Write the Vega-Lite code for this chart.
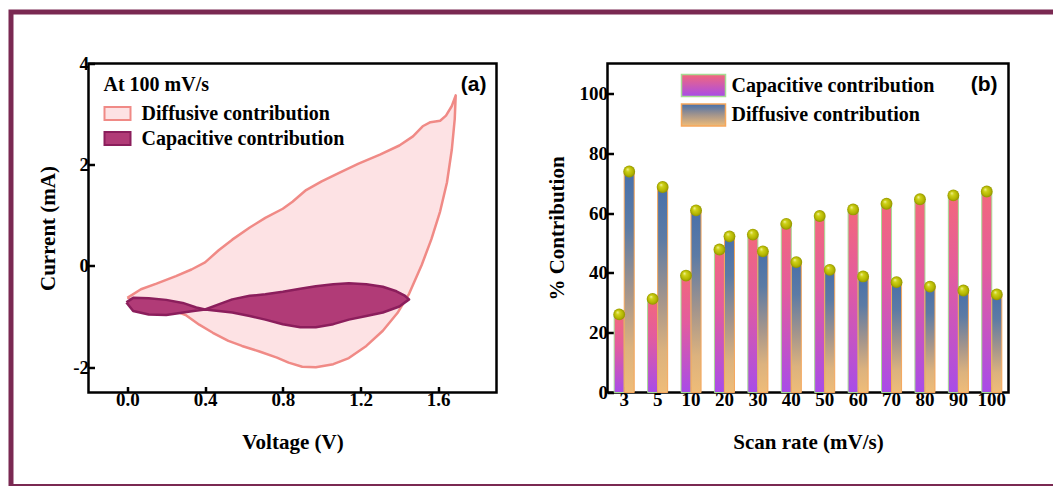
{
  "$schema": "https://vega.github.io/schema/vega-lite/v6.json",
  "background": "white",
  "padding": {"left": 6.5, "top": 7.5, "right": 0, "bottom": 0},
  "config": {
    "font": "Liberation Serif",
    "view": {"stroke": "black", "strokeWidth": 2.5},
    "axis": {
      "labelFont": "Liberation Serif", "labelFontWeight": "bold", "labelFontSize": 19, "labelColor": "black",
      "titleFont": "Liberation Serif", "titleFontWeight": "bold", "titleFontSize": 21, "titleColor": "black",
      "domain": false, "grid": false, "tickColor": "black", "tickWidth": 2.5, "tickSize": -6
    },
    "axisX": {"labelPadding": 4, "titlePadding": 22},
    "axisY": {"labelPadding": 6},
    "legend": {
      "labelFont": "Liberation Serif", "labelFontWeight": "bold", "labelFontSize": 20, "labelColor": "black",
      "titleFont": "Liberation Serif", "titleFontWeight": "bold", "titleFontSize": 20, "titleColor": "black",
      "labelLimit": 400, "padding": 0
    }
  },
  "datasets": {
    "cv": [
      {"series": "Diffusive contribution", "i": 0, "V": 0.00, "I": -0.63},
      {"series": "Diffusive contribution", "i": 1, "V": 0.07, "I": -0.46},
      {"series": "Diffusive contribution", "i": 2, "V": 0.15, "I": -0.35},
      {"series": "Diffusive contribution", "i": 3, "V": 0.25, "I": -0.20},
      {"series": "Diffusive contribution", "i": 4, "V": 0.33, "I": -0.07},
      {"series": "Diffusive contribution", "i": 5, "V": 0.40, "I": 0.07},
      {"series": "Diffusive contribution", "i": 6, "V": 0.47, "I": 0.31},
      {"series": "Diffusive contribution", "i": 7, "V": 0.54, "I": 0.52},
      {"series": "Diffusive contribution", "i": 8, "V": 0.63, "I": 0.76},
      {"series": "Diffusive contribution", "i": 9, "V": 0.71, "I": 0.95},
      {"series": "Diffusive contribution", "i": 10, "V": 0.80, "I": 1.13},
      {"series": "Diffusive contribution", "i": 11, "V": 0.85, "I": 1.27},
      {"series": "Diffusive contribution", "i": 12, "V": 0.92, "I": 1.50},
      {"series": "Diffusive contribution", "i": 13, "V": 1.00, "I": 1.67},
      {"series": "Diffusive contribution", "i": 14, "V": 1.09, "I": 1.84},
      {"series": "Diffusive contribution", "i": 15, "V": 1.19, "I": 2.02},
      {"series": "Diffusive contribution", "i": 16, "V": 1.30, "I": 2.20},
      {"series": "Diffusive contribution", "i": 17, "V": 1.40, "I": 2.38},
      {"series": "Diffusive contribution", "i": 18, "V": 1.47, "I": 2.56},
      {"series": "Diffusive contribution", "i": 19, "V": 1.52, "I": 2.76},
      {"series": "Diffusive contribution", "i": 20, "V": 1.56, "I": 2.84},
      {"series": "Diffusive contribution", "i": 21, "V": 1.61, "I": 2.87},
      {"series": "Diffusive contribution", "i": 22, "V": 1.64, "I": 2.97},
      {"series": "Diffusive contribution", "i": 23, "V": 1.67, "I": 3.16},
      {"series": "Diffusive contribution", "i": 24, "V": 1.69, "I": 3.37},
      {"series": "Diffusive contribution", "i": 25, "V": 1.685, "I": 2.90},
      {"series": "Diffusive contribution", "i": 26, "V": 1.67, "I": 2.30},
      {"series": "Diffusive contribution", "i": 27, "V": 1.645, "I": 1.65},
      {"series": "Diffusive contribution", "i": 28, "V": 1.61, "I": 1.08},
      {"series": "Diffusive contribution", "i": 29, "V": 1.565, "I": 0.53},
      {"series": "Diffusive contribution", "i": 30, "V": 1.515, "I": 0.02},
      {"series": "Diffusive contribution", "i": 31, "V": 1.45, "I": -0.55},
      {"series": "Diffusive contribution", "i": 32, "V": 1.39, "I": -0.93},
      {"series": "Diffusive contribution", "i": 33, "V": 1.315, "I": -1.28},
      {"series": "Diffusive contribution", "i": 34, "V": 1.23, "I": -1.58},
      {"series": "Diffusive contribution", "i": 35, "V": 1.14, "I": -1.82},
      {"series": "Diffusive contribution", "i": 36, "V": 1.06, "I": -1.94},
      {"series": "Diffusive contribution", "i": 37, "V": 0.97, "I": -2.00},
      {"series": "Diffusive contribution", "i": 38, "V": 0.90, "I": -1.99},
      {"series": "Diffusive contribution", "i": 39, "V": 0.83, "I": -1.91},
      {"series": "Diffusive contribution", "i": 40, "V": 0.77, "I": -1.81},
      {"series": "Diffusive contribution", "i": 41, "V": 0.68, "I": -1.69},
      {"series": "Diffusive contribution", "i": 42, "V": 0.59, "I": -1.58},
      {"series": "Diffusive contribution", "i": 43, "V": 0.52, "I": -1.48},
      {"series": "Diffusive contribution", "i": 44, "V": 0.44, "I": -1.32},
      {"series": "Diffusive contribution", "i": 45, "V": 0.37, "I": -1.16},
      {"series": "Diffusive contribution", "i": 46, "V": 0.30, "I": -0.97},
      {"series": "Diffusive contribution", "i": 47, "V": 0.20, "I": -0.82},
      {"series": "Diffusive contribution", "i": 48, "V": 0.10, "I": -0.71},
      {"series": "Diffusive contribution", "i": 49, "V": 0.00, "I": -0.63},

      {"series": "Capacitive contribution", "i": 0, "V": -0.005, "I": -0.72},
      {"series": "Capacitive contribution", "i": 1, "V": 0.03, "I": -0.63},
      {"series": "Capacitive contribution", "i": 2, "V": 0.11, "I": -0.64},
      {"series": "Capacitive contribution", "i": 3, "V": 0.20, "I": -0.67},
      {"series": "Capacitive contribution", "i": 4, "V": 0.285, "I": -0.73},
      {"series": "Capacitive contribution", "i": 5, "V": 0.355, "I": -0.82},
      {"series": "Capacitive contribution", "i": 6, "V": 0.40, "I": -0.86},
      {"series": "Capacitive contribution", "i": 7, "V": 0.47, "I": -0.89},
      {"series": "Capacitive contribution", "i": 8, "V": 0.54, "I": -0.92},
      {"series": "Capacitive contribution", "i": 9, "V": 0.63, "I": -0.99},
      {"series": "Capacitive contribution", "i": 10, "V": 0.71, "I": -1.06},
      {"series": "Capacitive contribution", "i": 11, "V": 0.80, "I": -1.15},
      {"series": "Capacitive contribution", "i": 12, "V": 0.89, "I": -1.21},
      {"series": "Capacitive contribution", "i": 13, "V": 0.97, "I": -1.21},
      {"series": "Capacitive contribution", "i": 14, "V": 1.06, "I": -1.15},
      {"series": "Capacitive contribution", "i": 15, "V": 1.14, "I": -1.06},
      {"series": "Capacitive contribution", "i": 16, "V": 1.23, "I": -0.99},
      {"series": "Capacitive contribution", "i": 17, "V": 1.315, "I": -0.92},
      {"series": "Capacitive contribution", "i": 18, "V": 1.40, "I": -0.80},
      {"series": "Capacitive contribution", "i": 19, "V": 1.45, "I": -0.66},
      {"series": "Capacitive contribution", "i": 20, "V": 1.425, "I": -0.58},
      {"series": "Capacitive contribution", "i": 21, "V": 1.385, "I": -0.50},
      {"series": "Capacitive contribution", "i": 22, "V": 1.315, "I": -0.41},
      {"series": "Capacitive contribution", "i": 23, "V": 1.23, "I": -0.36},
      {"series": "Capacitive contribution", "i": 24, "V": 1.14, "I": -0.34},
      {"series": "Capacitive contribution", "i": 25, "V": 1.06, "I": -0.36},
      {"series": "Capacitive contribution", "i": 26, "V": 0.97, "I": -0.40},
      {"series": "Capacitive contribution", "i": 27, "V": 0.89, "I": -0.45},
      {"series": "Capacitive contribution", "i": 28, "V": 0.80, "I": -0.51},
      {"series": "Capacitive contribution", "i": 29, "V": 0.71, "I": -0.56},
      {"series": "Capacitive contribution", "i": 30, "V": 0.63, "I": -0.59},
      {"series": "Capacitive contribution", "i": 31, "V": 0.54, "I": -0.66},
      {"series": "Capacitive contribution", "i": 32, "V": 0.47, "I": -0.76},
      {"series": "Capacitive contribution", "i": 33, "V": 0.40, "I": -0.86},
      {"series": "Capacitive contribution", "i": 34, "V": 0.34, "I": -0.89},
      {"series": "Capacitive contribution", "i": 35, "V": 0.27, "I": -0.93},
      {"series": "Capacitive contribution", "i": 36, "V": 0.20, "I": -0.97},
      {"series": "Capacitive contribution", "i": 37, "V": 0.11, "I": -0.96},
      {"series": "Capacitive contribution", "i": 38, "V": 0.03, "I": -0.89},
      {"series": "Capacitive contribution", "i": 39, "V": -0.005, "I": -0.72}
    ],
    "contribution": [
      {"rate": "3", "type": "Capacitive contribution", "value": 26.1},
      {"rate": "3", "type": "Diffusive contribution", "value": 73.9},
      {"rate": "5", "type": "Capacitive contribution", "value": 31.3},
      {"rate": "5", "type": "Diffusive contribution", "value": 68.7},
      {"rate": "10", "type": "Capacitive contribution", "value": 39.1},
      {"rate": "10", "type": "Diffusive contribution", "value": 60.9},
      {"rate": "20", "type": "Capacitive contribution", "value": 47.8},
      {"rate": "20", "type": "Diffusive contribution", "value": 52.2},
      {"rate": "30", "type": "Capacitive contribution", "value": 52.8},
      {"rate": "30", "type": "Diffusive contribution", "value": 47.2},
      {"rate": "40", "type": "Capacitive contribution", "value": 56.4},
      {"rate": "40", "type": "Diffusive contribution", "value": 43.6},
      {"rate": "50", "type": "Capacitive contribution", "value": 59.0},
      {"rate": "50", "type": "Diffusive contribution", "value": 41.0},
      {"rate": "60", "type": "Capacitive contribution", "value": 61.2},
      {"rate": "60", "type": "Diffusive contribution", "value": 38.8},
      {"rate": "70", "type": "Capacitive contribution", "value": 63.1},
      {"rate": "70", "type": "Diffusive contribution", "value": 36.9},
      {"rate": "80", "type": "Capacitive contribution", "value": 64.6},
      {"rate": "80", "type": "Diffusive contribution", "value": 35.4},
      {"rate": "90", "type": "Capacitive contribution", "value": 65.9},
      {"rate": "90", "type": "Diffusive contribution", "value": 34.1},
      {"rate": "100", "type": "Capacitive contribution", "value": 67.2},
      {"rate": "100", "type": "Diffusive contribution", "value": 32.8}
    ]
  },
  "hconcat": [
    {
      "width": 408,
      "height": 329,
      "title": {"text": "(a)", "anchor": "end", "frame": "group", "offset": -86, "dx": -10, "font": "Liberation Sans", "fontSize": 21, "fontWeight": "bold", "color": "black"},
      "layer": [
        {
          "description": "figure frame drawn around both panels, in this panel's units",
          "data": {"values": [{"frame": "figure"}]},
          "mark": {"type": "rect", "fill": null, "stroke": "#7a2952", "strokeWidth": 5, "clip": false},
          "encoding": {
            "x": {"datum": -0.5989, "type": "quantitative", "title": "Voltage (V)"}, "x2": {"datum": 4.7978},
            "y": {"datum": 5.0175, "type": "quantitative", "title": "Current (mA)"}, "y2": {"datum": -4.357}
          }
        },
        {
          "data": {"name": "cv"},
          "encoding": {
            "x": {"field": "V", "type": "quantitative", "scale": {"domain": [-0.2, 1.9], "nice": false, "zero": false},
                  "axis": {"title": "Voltage (V)", "values": [0, 0.4, 0.8, 1.2, 1.6], "format": ".1f"}},
            "y": {"field": "I", "type": "quantitative", "scale": {"domain": [-2.5, 4], "nice": false, "zero": false},
                  "axis": {"title": "Current (mA)", "values": [-2, 0, 2, 4], "labelExpr": "datum.value", "titlePadding": 14}},
            "order": {"field": "i", "type": "quantitative"},
            "fill": {"field": "series", "type": "nominal",
                     "scale": {"domain": ["Diffusive contribution", "Capacitive contribution"], "range": ["#fde2e4", "#b13b77"]},
                     "legend": {"title": "At 100 mV/s", "orient": "none", "legendX": 15, "legendY": 11, "titlePadding": 5,
                                "symbolType": "M-1,-0.5H1V0.5H-1Z", "symbolSize": 676, "symbolStrokeWidth": 2, "labelOffset": 10, "rowPadding": -1}},
            "stroke": {"field": "series", "type": "nominal",
                       "scale": {"domain": ["Diffusive contribution", "Capacitive contribution"], "range": ["#f08a86", "#8b1e5c"]},
                       "legend": {"title": "At 100 mV/s", "orient": "none", "legendX": 15, "legendY": 11, "titlePadding": 5,
                                  "symbolType": "M-1,-0.5H1V0.5H-1Z", "symbolSize": 676, "symbolStrokeWidth": 2, "labelOffset": 10, "rowPadding": -1}}
          },
          "layer": [
            {
              "transform": [{"filter": "datum.series === 'Diffusive contribution'"}],
              "mark": {"type": "line", "strokeWidth": 2.5, "strokeJoin": "round"}
            },
            {
              "transform": [{"filter": "datum.series === 'Capacitive contribution'"}],
              "mark": {"type": "line", "strokeWidth": 2.5, "strokeJoin": "round"}
            }
          ]
        }
      ]
    },
    {
      "width": 401,
      "height": 329,
      "title": {"text": "(b)", "anchor": "end", "frame": "group", "offset": -31, "dx": -11, "font": "Liberation Sans", "fontSize": 21, "fontWeight": "bold", "color": "black"},
      "data": {"name": "contribution"},
      "encoding": {
        "x": {"field": "rate", "type": "nominal", "sort": ["3", "5", "10", "20", "30", "40", "50", "60", "70", "80", "90", "100"],
              "scale": {"paddingInner": 0.4, "paddingOuter": 0.2},
              "axis": {"title": "Scan rate (mV/s)", "labelAngle": 0}},
        "xOffset": {"field": "type", "type": "nominal", "sort": ["Capacitive contribution", "Diffusive contribution"],
                    "scale": {"paddingInner": 0, "paddingOuter": 0}},
        "y": {"field": "value", "type": "quantitative", "scale": {"domain": [0, 110], "nice": false},
              "axis": {"title": "% Contribution", "values": [0, 20, 40, 60, 80, 100], "titlePadding": 12}}
      },
      "layer": [
        {
          "mark": {"type": "bar", "strokeWidth": 1},
          "encoding": {
            "fill": {
              "condition": {"test": "datum.type === 'Capacitive contribution'",
                            "value": {"gradient": "linear", "x1": 0, "y1": 0, "x2": 0, "y2": 1,
                                      "stops": [{"offset": 0, "color": "#f2687c"}, {"offset": 0.4, "color": "#e35c9e"}, {"offset": 1, "color": "#a84ce8"}]}},
              "value": {"gradient": "linear", "x1": 0, "y1": 0, "x2": 0, "y2": 1,
                        "stops": [{"offset": 0, "color": "#4870aa"}, {"offset": 0.25, "color": "#5c7ba5"}, {"offset": 0.55, "color": "#a4958c"}, {"offset": 0.8, "color": "#dcb27e"}, {"offset": 1, "color": "#efbc78"}]}
            },
            "stroke": {"field": "type", "type": "nominal",
                       "scale": {"domain": ["Capacitive contribution", "Diffusive contribution"], "range": ["#a6dc94", "#f6a75b"]},
                       "legend": {"title": null, "orient": "none", "legendX": 84, "legendY": 10,
                                  "symbolType": "M-2,-1H2V1H-2Z", "symbolSize": 484, "symbolStrokeWidth": 1.5, "labelOffset": 16, "rowPadding": 1.5,
                                  "encoding": {
                                    "symbols": {
                                      "fill": {
                                        "condition": {"test": "datum.value === 'Capacitive contribution'",
                                                      "value": {"gradient": "linear", "x1": 0, "y1": 0, "x2": 0, "y2": 1,
                                                                "stops": [{"offset": 0, "color": "#f2687c"}, {"offset": 1, "color": "#a84ce8"}]}},
                                        "value": {"gradient": "linear", "x1": 0, "y1": 0, "x2": 0, "y2": 1,
                                                  "stops": [{"offset": 0, "color": "#4870aa"}, {"offset": 0.5, "color": "#a4958c"}, {"offset": 1, "color": "#efbc78"}]}
                                      },
                                      "fillOpacity": {"value": 1}
                                    }
                                  }}}
          }
        },
        {
          "mark": {"type": "point", "filled": true, "size": 140, "opacity": 1, "strokeWidth": 0,
                   "fill": {"gradient": "radial", "x1": 0.35, "y1": 0.3, "r1": 0, "x2": 0.5, "y2": 0.5, "r2": 0.5,
                            "stops": [{"offset": 0, "color": "#f6f7b0"}, {"offset": 0.3, "color": "#cfd21a"}, {"offset": 0.75, "color": "#b3b500"}, {"offset": 1, "color": "#8f9200"}]}}
        }
      ]
    }
  ],
  "spacing": 111,
  "bounds": "flush",
  "resolve": {
    "scale": {"fill": "independent", "stroke": "independent"},
    "legend": {"fill": "independent", "stroke": "independent"}
  }
}
